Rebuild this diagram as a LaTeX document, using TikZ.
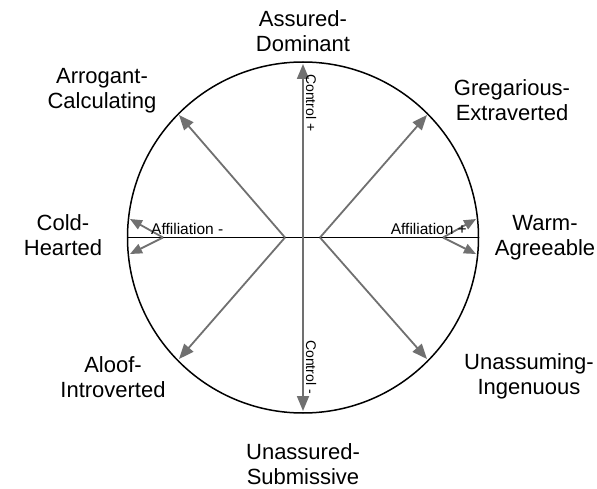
\documentclass[tikz,border=0pt]{standalone}
\usepackage{fontspec}
\setmainfont{Liberation Sans}
\usetikzlibrary{arrows.meta}
\definecolor{arrgray}{RGB}{112,112,112}
\tikzset{
  garrow/.style={draw=arrgray,line width=1.8pt,-{Triangle[length=15pt,width=12pt]}},
  sarrow/.style={draw=arrgray,line width=1.8pt,-{Triangle[length=12pt,width=10pt]}},
  biglabel/.style={font=\fontsize{22}{25}\selectfont,align=center,inner sep=0pt,anchor=base},
  smalllabel/.style={font=\fontsize{15.5}{17}\selectfont,inner sep=0pt},
  ctrllabel/.style={font=\fontsize{14}{16}\selectfont,inner sep=0pt,rotate=-90,anchor=base west},
}
\begin{document}
\begin{tikzpicture}[x=1pt,y=-1pt]
\useasboundingbox (0,0) rectangle (597,489);
\coordinate (C) at (303,237.5);
\coordinate (LV) at (285,237.5);
\coordinate (RV) at (320,237.5);
\coordinate (UL) at (179,115);
\coordinate (LL) at (179,359);
\coordinate (UR) at (427,115);
\coordinate (LR) at (427,359);
\coordinate (T) at (303,64);
\coordinate (B) at (303,411);
\coordinate (Lh) at (128,237.5);
\coordinate (Rh) at (479,237.5);
\coordinate (SL) at (163,237.5);
\coordinate (SR) at (443,237.5);
\coordinate (SL1) at (130,219);
\coordinate (SL2) at (130,254);
\coordinate (SR1) at (476,219);
\coordinate (SR2) at (476,254);
\draw[line width=1.5pt] (C) circle[radius=175.5];
\draw[line width=1.6pt] (Lh) -- (Rh);
\draw[garrow] (LV) -- (UL);
\draw[garrow] (LV) -- (LL);
\draw[garrow] (RV) -- (UR);
\draw[garrow] (RV) -- (LR);
\draw[draw=arrgray,line width=1.8pt,{Triangle[length=15pt,width=12pt]}-{Triangle[length=15pt,width=12pt]}] (T) -- (B);
\draw[sarrow] (SL) -- (SL1);
\draw[sarrow] (SL) -- (SL2);
\draw[sarrow] (SR) -- (SR1);
\draw[sarrow] (SR) -- (SR2);
\node[smalllabel,anchor=base west] (aminus) at (151,234) {Affiliation -};
\node[smalllabel,anchor=base east] (aplus) at (467,234) {Affiliation +};
\node[ctrllabel] (cplus) at (306,74) {Control +};
\node[ctrllabel] (cminus) at (306,340) {Control -};
\node[biglabel] (ad) at (303,52) {Assured-\\Dominant};
\node[biglabel] (ac) at (102,109) {Arrogant-\\Calculating};
\node[biglabel] (ge) at (512,121) {Gregarious-\\Extraverted};
\node[biglabel] (ch) at (63,255) {Cold-\\Hearted};
\node[biglabel] (wa) at (545,255) {Warm-\\Agreeable};
\node[biglabel] (ai) at (113,397) {Aloof-\\Introverted};
\node[biglabel] (ui) at (529,394) {Unassuming-\\Ingenuous};
\node[biglabel] (us) at (303,484) {Unassured-\\Submissive};
\end{tikzpicture}
\end{document}
